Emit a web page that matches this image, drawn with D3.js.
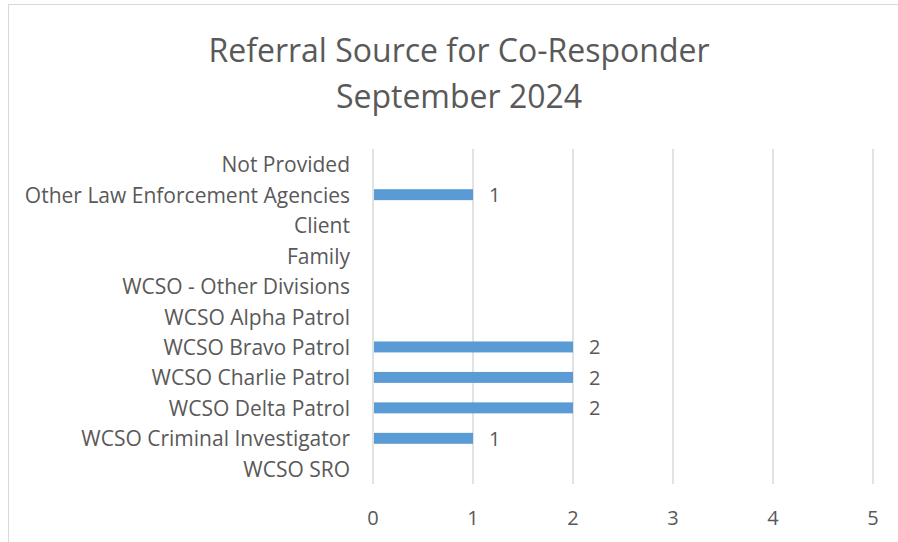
<!DOCTYPE html>
<html>
<head>
<meta charset="utf-8">
<script src="https://cdn.jsdelivr.net/npm/d3@7"></script>
<style>
  body { margin: 0; background: #fff; }
  text { font-family: "Open Sans", Lato, sans-serif; fill: #595959; }
</style>
</head>
<body>
<svg id="chart"></svg>
<script>
const categories = [
    "Not Provided",
    "Other Law Enforcement Agencies",
    "Client",
    "Family",
    "WCSO - Other Divisions",
    "WCSO Alpha Patrol",
    "WCSO Bravo Patrol",
    "WCSO Charlie Patrol",
    "WCSO Delta Patrol",
    "WCSO Criminal Investigator",
    "WCSO SRO"
];
const referrals = [0, 1, 0, 0, 0, 0, 2, 2, 2, 1, 0];
const xTicks = [0, 1, 2, 3, 4, 5];
const titleLines = ["Referral Source for Co-Responder", "September 2024"];

const width = 898, height = 542;
const plot = { left: 373, right: 873, top: 149, bottom: 484 };

const svg = d3.select("#chart")
    .attr("width", width)
    .attr("height", height);

// chart frame (cropped on the right and bottom)
svg.append("rect")
    .attr("x", 8.5).attr("y", 4.5)
    .attr("width", 1000).attr("height", 1000)
    .attr("fill", "none")
    .attr("stroke", "#d9d9d9");

const x = d3.scaleLinear()
    .domain([0, 5])
    .range([plot.left, plot.right]);

const y = d3.scaleBand()
    .domain(categories)
    .range([plot.top, plot.bottom])
    .paddingInner(0.64)
    .paddingOuter(0.32);

const yRow = d3.scaleBand()
    .domain(categories)
    .range([plot.top, plot.bottom]);

// title
svg.append("g").selectAll("text")
    .data(titleLines)
    .enter().append("text")
    .attr("x", 459)
    .attr("y", (d, i) => 49 + i * 46)
    .attr("text-anchor", "middle")
    .attr("dominant-baseline", "central")
    .style("font-size", "32px")
    .text(d => d);

// vertical gridlines
svg.append("g").selectAll("line")
    .data(xTicks)
    .enter().append("line")
    .attr("x1", d => x(d)).attr("x2", d => x(d))
    .attr("y1", plot.top).attr("y2", plot.bottom)
    .attr("stroke", "#d9d9d9")
    .attr("stroke-width", 1.5);

// bars
svg.append("g").selectAll("rect")
    .data(referrals)
    .enter().append("rect")
    .attr("x", x(0) + 1)
    .attr("y", (d, i) => y(categories[i]))
    .attr("width", d => Math.max(0, x(d) - x(0) - 1))
    .attr("height", y.bandwidth())
    .attr("fill", "#5b9bd5");

// value labels
svg.append("g").selectAll("text")
    .data(referrals.map((v, i) => ({ v, c: categories[i] })).filter(d => d.v > 0))
    .enter().append("text")
    .attr("x", d => x(d.v) + 16)
    .attr("y", d => yRow(d.c) + yRow.bandwidth() / 2)
    .attr("dominant-baseline", "central")
    .style("font-size", "20px")
    .text(d => d.v);

// category labels
svg.append("g").selectAll("text")
    .data(categories)
    .enter().append("text")
    .attr("x", 350)
    .attr("y", d => yRow(d) + yRow.bandwidth() / 2)
    .attr("text-anchor", "end")
    .attr("dominant-baseline", "central")
    .style("font-size", "21px")
    .text(d => d);

// x tick labels
svg.append("g").selectAll("text")
    .data(xTicks)
    .enter().append("text")
    .attr("x", d => x(d))
    .attr("y", 517)
    .attr("text-anchor", "middle")
    .attr("dominant-baseline", "central")
    .style("font-size", "20px")
    .text(d => d);
</script>
</body>
</html>
